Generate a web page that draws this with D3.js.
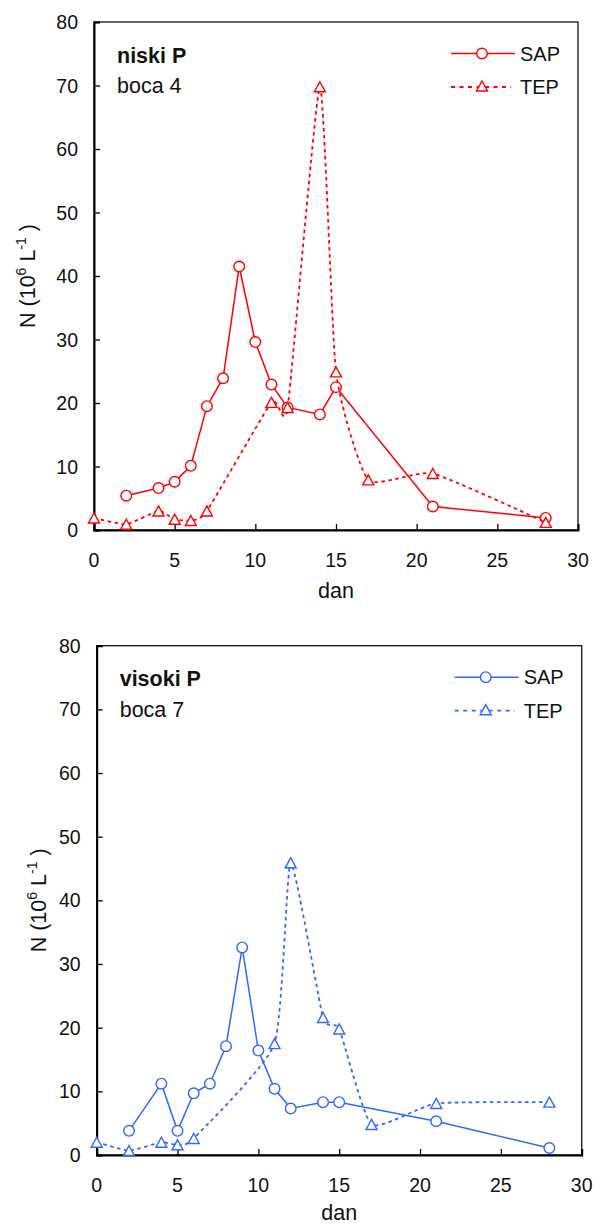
<!DOCTYPE html>
<html>
<head>
<meta charset="utf-8">
<script src="https://cdn.jsdelivr.net/npm/d3@7"></script>
<style>
  body { margin: 0; background: #fff; }
  svg { display: block; font-family: "Liberation Sans", Arial, sans-serif; }
</style>
</head>
<body>
<svg id="chart" width="596" height="1224"></svg>
<script>
// ---- data ----
const xTicks = [0, 5, 10, 15, 20, 25, 30];
const yTicks = [0, 10, 20, 30, 40, 50, 60, 70, 80];
const seriesNames = ["SAP", "TEP"];

const topTitle = "niski P";
const topSubtitle = "boca 4";
const topSapDays = [2, 4, 5, 6, 7, 8, 9, 10, 11, 12, 14, 15, 21, 28];
const topSapValues = [5.4, 6.6, 7.6, 10.1, 19.5, 23.9, 41.5, 29.6, 22.9, 19.3, 18.2, 22.5, 3.7, 1.9];
const topTepDays = [0, 2, 4, 5, 6, 7, 11, 12, 14, 15, 17, 21, 28];
const topTepValues = [1.9, 0.9, 3.0, 1.7, 1.5, 3.0, 20.1, 19.3, 69.8, 24.9, 7.9, 8.9, 1.2];

const bottomTitle = "visoki P";
const bottomSubtitle = "boca 7";
const bottomSapDays = [2, 4, 5, 6, 7, 8, 9, 10, 11, 12, 14, 15, 21, 28];
const bottomSapValues = [3.8, 11.2, 3.8, 9.7, 11.2, 17.1, 32.6, 16.4, 10.4, 7.3, 8.3, 8.3, 5.3, 1.1];
const bottomTepDays = [0, 2, 4, 5, 6, 11, 12, 14, 15, 17, 21, 28];
const bottomTepValues = [2.0, 0.7, 2.0, 1.6, 2.6, 17.5, 45.9, 21.6, 19.8, 4.8, 8.1, 8.3];

const svg = d3.select("#chart");

function triPath(w, h) {
  return `M0,${-h/2}L${w/2},${h/2}L${-w/2},${h/2}Z`;
}

function drawChart(cfg) {
  const { left, right, top, bottom, color, title, subtitle, sapDays, sapVals, tepDays, tepVals, ylabX, danY } = cfg;
  const x = d3.scaleLinear().domain([0, 30]).range([left, right]);
  const y = d3.scaleLinear().domain([0, 80]).range([bottom, top]);
  const g = svg.append("g");

  // frame
  g.append("rect").attr("x", left).attr("y", top).attr("width", right - left).attr("height", bottom - top)
    .attr("fill", "none").attr("stroke", "#222").attr("stroke-width", 1.4);

  // axes (ticks inside)
  const yAxis = g.append("g").attr("transform", `translate(${left},0)`)
    .call(d3.axisRight(y).tickValues(yTicks).tickSize(6).tickFormat(""));
  yAxis.select(".domain").attr("stroke", "#000").attr("stroke-width", 2);
  yAxis.selectAll(".tick line").attr("stroke", "#000").attr("stroke-width", 1.3);

  const xAxis = g.append("g").attr("transform", `translate(0,${bottom})`)
    .call(d3.axisTop(x).tickValues(xTicks).tickSize(6).tickFormat(""));
  xAxis.select(".domain").attr("stroke", "#000").attr("stroke-width", 2);
  xAxis.selectAll(".tick line").attr("stroke", "#000").attr("stroke-width", 1.3);

  // tick labels
  g.selectAll(".ylab").data(yTicks).enter().append("text")
    .attr("x", left - 16).attr("y", d => y(d)).attr("dy", "0.36em")
    .attr("text-anchor", "end").attr("font-size", 19.5).attr("fill", "#111").text(d => d);
  g.selectAll(".xlab").data(xTicks).enter().append("text")
    .attr("x", d => x(d)).attr("y", bottom + 37)
    .attr("text-anchor", "middle").attr("font-size", 19.5).attr("fill", "#111").text(d => d);

  // axis titles
  g.append("text").attr("x", (left + right) / 2).attr("y", danY)
    .attr("text-anchor", "middle").attr("font-size", 21.5).attr("fill", "#111").text("dan");
  const yl = g.append("text")
    .attr("transform", `translate(${ylabX},${(top + bottom) / 2}) rotate(-90)`)
    .attr("text-anchor", "middle").attr("font-size", 21.5).attr("fill", "#111");
  yl.append("tspan").text("N (10");
  yl.append("tspan").attr("font-size", 14).attr("dy", -9).text("6");
  yl.append("tspan").attr("dy", 9).text(" L");
  yl.append("tspan").attr("font-size", 14).attr("dy", -9).text("-1");
  yl.append("tspan").attr("dy", 9).text(" )");

  // title
  g.append("text").attr("x", left + 23).attr("y", top + 40.5).attr("font-size", 21.5)
    .attr("font-weight", "bold").attr("fill", "#111").text(title);
  g.append("text").attr("x", left + 23).attr("y", top + 71).attr("font-size", 21.5)
    .attr("fill", "#111").text(subtitle);

  // series
  const sap = sapDays.map((d, i) => [d, sapVals[i]]);
  const tep = tepDays.map((d, i) => [d, tepVals[i]]);
  const lineStraight = d3.line().x(d => x(d[0])).y(d => y(d[1]));
  const lineSmooth = d3.line().x(d => x(d[0])).y(d => y(d[1])).curve(d3.curveCardinal.tension(0.5));

  g.append("path").attr("d", lineStraight(sap)).attr("fill", "none")
    .attr("stroke", color).attr("stroke-width", 1.5);
  g.selectAll(".sapm").data(sap).enter().append("circle")
    .attr("cx", d => x(d[0])).attr("cy", d => y(d[1])).attr("r", 5.3)
    .attr("fill", "#fff").attr("stroke", color).attr("stroke-width", 1.4);

  g.append("path").attr("d", lineSmooth(tep)).attr("fill", "none")
    .attr("stroke", color).attr("stroke-width", 1.8).attr("stroke-dasharray", "3.5,3.5");
  g.selectAll(".tepm").data(tep).enter().append("path")
    .attr("d", triPath(11, 10))
    .attr("transform", d => `translate(${x(d[0])},${y(d[1])})`)
    .attr("fill", "#fff").attr("stroke", color).attr("stroke-width", 1.4);

  // legend
  const lx0 = right - 127, lx1 = right - 63, lmid = right - 96;
  const ly1 = top + 31.5, ly2 = top + 65;
  g.append("line").attr("x1", lx0).attr("x2", lx1).attr("y1", ly1).attr("y2", ly1)
    .attr("stroke", color).attr("stroke-width", 1.5);
  g.append("circle").attr("cx", lmid).attr("cy", ly1).attr("r", 5.3)
    .attr("fill", "#fff").attr("stroke", color).attr("stroke-width", 1.4);
  g.append("line").attr("x1", lx0).attr("x2", lx1 - 4).attr("y1", ly2).attr("y2", ly2)
    .attr("stroke", color).attr("stroke-width", 1.8).attr("stroke-dasharray", "4,4.5");
  g.append("path").attr("d", triPath(11, 10)).attr("transform", `translate(${lmid},${ly2 - 1})`)
    .attr("fill", "#fff").attr("stroke", color).attr("stroke-width", 1.4);
  g.append("text").attr("x", right - 58).attr("y", ly1 + 7).attr("font-size", 20).attr("fill", "#111").text(seriesNames[0]);
  g.append("text").attr("x", right - 58).attr("y", ly2 + 7).attr("font-size", 20).attr("fill", "#111").text(seriesNames[1]);
}

drawChart({ left: 94, right: 578, top: 22, bottom: 530, color: "#FF0000",
  title: topTitle, subtitle: topSubtitle, sapDays: topSapDays, sapVals: topSapValues,
  tepDays: topTepDays, tepVals: topTepValues, ylabX: 35, danY: 597.5 });
drawChart({ left: 96.7, right: 581.7, top: 645.7, bottom: 1155, color: "#3366FF",
  title: bottomTitle, subtitle: bottomSubtitle, sapDays: bottomSapDays, sapVals: bottomSapValues,
  tepDays: bottomTepDays, tepVals: bottomTepValues, ylabX: 46, danY: 1220 });
</script>
</body>
</html>
